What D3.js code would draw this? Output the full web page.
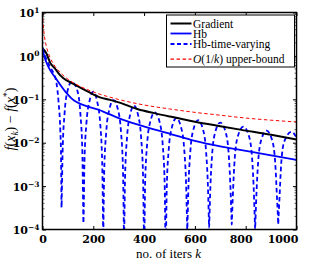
<!DOCTYPE html>
<html>
<head>
<meta charset="utf-8">
<script src="https://cdn.jsdelivr.net/npm/d3@7"></script>
<style>
  body { margin: 0; background: #fff; }
  svg { display: block; }
</style>
</head>
<body>
<div id="chart"></div>
<script>
// Gradient
const kGrad = [0, 15, 30, 48, 69, 81, 120, 179, 226, 266, 300, 376, 440, 502, 600, 700, 778, 900, 1000];
const gradVals = [1.5, 1.15, 0.70, 0.52, 0.36, 0.31, 0.23, 0.15, 0.111, 0.097, 0.085, 0.059, 0.048, 0.040, 0.0305, 0.024, 0.020, 0.0152, 0.0118];

// Hb
const kHb = [0, 5, 14, 30, 48, 69, 90, 115, 179, 226, 246, 300, 376, 502, 600, 700, 778, 900, 1000];
const hbVals = [1.55, 1.1, 0.74, 0.47, 0.33, 0.22, 0.15, 0.104, 0.068, 0.056, 0.050, 0.037, 0.026, 0.016, 0.011, 0.0082, 0.0068, 0.0051, 0.004];

// Hb-time-varying
const kTv = [0, 15, 30, 45, 55, 63, 70, 73, 74, 75, 76, 79, 87, 99, 115, 137, 149, 157, 160, 161, 162, 165, 173, 185, 200, 215,
  227, 235, 238, 239, 240, 243, 251, 263, 280, 297, 309, 317, 320, 321, 322, 325, 333, 345, 360, 376, 388, 396, 399, 400, 401,
  404, 412, 424, 442, 461, 473, 481, 484, 485, 486, 489, 497, 509, 527, 546, 558, 566, 569, 570, 571, 574, 582, 594, 613, 632,
  644, 652, 655, 656, 657, 660, 668, 680, 700, 721, 733, 741, 744, 745, 746, 749, 757, 769, 791, 813, 825, 833, 836, 837, 838,
  841, 849, 861, 882, 904, 916, 924, 927, 928, 929, 932, 940, 952, 981, 1000];
const tvVals = [1.5, 0.85, 0.55, 0.38, 0.24, 0.09, 0.02, 0.005, 0.0012, 0.00032, 0.0006, 0.0057, 0.048, 0.16, 0.255, 0.16, 0.048, 0.0057, 0.00036, 0.00014, 0.00021, 0.0034, 0.0285, 0.09, 0.15, 0.09,
  0.0285, 0.0034, 0.00021, 0.00004, 0.00013, 0.0022, 0.018, 0.058, 0.096, 0.058, 0.018, 0.0022, 0.00013, 0.00004, 0.0001, 0.0016, 0.0137, 0.044, 0.072, 0.044, 0.0137, 0.0016, 0.0001, 0.00005, 0.00007,
  0.0011, 0.0095, 0.03, 0.05, 0.03, 0.0095, 0.0011, 0.00007, 0.00004, 0.00006, 0.00083, 0.007, 0.022, 0.037, 0.022, 0.007, 0.00083, 0.00016, 0.0001, 0.00015, 0.00074, 0.0063, 0.02, 0.033, 0.02,
  0.0063, 0.00074, 0.00017, 0.00011, 0.00016, 0.00065, 0.0055, 0.0175, 0.029, 0.0175, 0.0055, 0.00065, 0.00019, 0.00013, 0.00018, 0.00053, 0.0045, 0.014, 0.0235, 0.014, 0.0045, 0.00053, 0.00015, 0.0001, 0.00014,
  0.00043, 0.0036, 0.0115, 0.019, 0.0115, 0.0036, 0.00043, 0.00019, 0.00013, 0.00018, 0.0004, 0.0034, 0.0107, 0.0178, 0.013];

// O(1/k) upper bound
const kUb = [0, 1, 2, 3, 5, 7, 10, 15, 20, 30, 50, 75, 100, 150, 200, 300, 400, 500, 600, 700, 800, 900, 1000];
const ubVals = [10, 7.5, 6, 5, 3.75, 3, 2.3, 1.67, 1.3, 0.91, 0.57, 0.385, 0.29, 0.196, 0.148, 0.099, 0.074, 0.06, 0.05, 0.043, 0.037, 0.033, 0.030];

const xTicks = [0, 200, 400, 600, 800, 1000];
const yTicks = [1e1, 1e0, 1e-1, 1e-2, 1e-3, 1e-4];
const yExps = ["1", "0", "\u22121", "\u22122", "\u22123", "\u22124"];
const legendNames = ["Gradient", "Hb", "Hb-time-varying", "upper-bound"];

const width = 312, height = 261;
const margin = { top: 12.5, right: 15.5, bottom: 31.5, left: 42.5 };
const iw = width - margin.left - margin.right;
const ih = height - margin.top - margin.bottom;

const svg = d3.select("#chart").append("svg")
  .attr("width", width)
  .attr("height", height);

const x = d3.scaleLinear().domain([0, 1000]).range([0, iw]);
const y = d3.scaleLog().domain([1e-4, 1e1]).range([ih, 0]);

const g = svg.append("g")
  .attr("transform", "translate(" + margin.left + "," + margin.top + ")");

g.append("clipPath").attr("id", "clip")
  .append("rect").attr("x", 0).attr("y", 0).attr("width", iw).attr("height", ih);

const serif = "'DejaVu Serif', serif";

// x axis (ticks inside); the last labels sit a little left of their ticks as in the original
const xShift = [0, 0, 0, 0, -5, -14];
const xAxis = g.append("g")
  .attr("transform", "translate(0," + ih + ")")
  .call(d3.axisBottom(x).tickValues(xTicks).tickFormat(d3.format("d"))
    .tickSizeInner(-3.5).tickSizeOuter(0).tickPadding(6));
xAxis.select(".domain").remove();
xAxis.selectAll("text")
  .attr("dx", (d, i) => xShift[i])
  .style("font-family", serif).style("font-weight", "bold").style("font-size", "11px").attr("fill", "#000");

g.append("g")
  .call(d3.axisTop(x).tickValues(xTicks).tickSizeInner(-3.5).tickSizeOuter(0).tickFormat(""))
  .select(".domain").remove();

// y axis (ticks inside)
const yAxis = g.append("g")
  .call(d3.axisLeft(y).tickValues(yTicks).tickSizeInner(-3.5).tickSizeOuter(0).tickPadding(10).tickFormat(""));
yAxis.select(".domain").remove();
yAxis.selectAll(".tick").each(function (d, i) {
  const t = d3.select(this).append("text")
    .attr("x", -3)
    .attr("y", 0)
    .attr("dy", "0.38em")
    .attr("text-anchor", "end")
    .attr("fill", "#000")
    .style("font-family", serif)
    .style("font-weight", "bold")
    .style("font-size", "11px");
  t.append("tspan").text("10");
  t.append("tspan").attr("dy", "-0.55em").style("font-size", "7.5px").text(yExps[i]);
});

g.append("g")
  .attr("transform", "translate(" + iw + ",0)")
  .call(d3.axisRight(y).tickValues(yTicks).tickSizeInner(-3.5).tickSizeOuter(0).tickFormat(""))
  .select(".domain").remove();

// minor log ticks
const minor = [];
for (let e = -4; e < 1; e++) {
  for (let m = 2; m < 10; m++) minor.push(m * Math.pow(10, e));
}
g.selectAll(".minorL").data(minor).enter().append("line")
  .attr("x1", 0).attr("x2", 2)
  .attr("y1", (d) => y(d)).attr("y2", (d) => y(d))
  .attr("stroke", "#000").attr("stroke-width", 0.6);
g.selectAll(".minorR").data(minor).enter().append("line")
  .attr("x1", iw - 2).attr("x2", iw)
  .attr("y1", (d) => y(d)).attr("y2", (d) => y(d))
  .attr("stroke", "#000").attr("stroke-width", 0.6);

// lines
const plot = g.append("g").attr("clip-path", "url(#clip)");

function drawLine(ks, vs, color, widthPx, dash) {
  const line = d3.line()
    .x((d) => x(d[0]))
    .y((d) => y(d[1]))
    .curve(d3.curveMonotoneX);
  const path = plot.append("path")
    .datum(ks.map((k, i) => [k, vs[i]]))
    .attr("fill", "none")
    .attr("stroke", color)
    .attr("stroke-width", widthPx)
    .attr("stroke-linejoin", "round")
    .attr("d", line);
  if (dash) path.style("stroke-dasharray", dash);
}

drawLine(kTv, tvVals, "#0000ff", 1.8, "4.5, 3");
drawLine(kGrad, gradVals, "#000", 2);
drawLine(kHb, hbVals, "#0000ff", 1.8);
drawLine(kUb, ubVals, "#ff0000", 1, "3.5, 2.5");

// frame
g.append("rect")
  .attr("x", 0).attr("y", 0).attr("width", iw).attr("height", ih)
  .attr("fill", "none").attr("stroke", "#000").attr("stroke-width", 1.5);

// legend
const legendX = 124, legendY = 2.5;
const rowsY = [8.5, 18.5, 29, 44.2];
const styles = [
  { color: "#000", w: 2, dash: null },
  { color: "#0000ff", w: 1.8, dash: null },
  { color: "#0000ff", w: 1.8, dash: "4, 2.5" },
  { color: "#ff0000", w: 1.2, dash: "3.5, 2.5" }
];
const lg = g.append("g").attr("transform", "translate(" + legendX + "," + legendY + ")");
lg.append("rect")
  .attr("x", 0).attr("y", 0).attr("width", 128).attr("height", 52)
  .attr("fill", "#fff").attr("stroke", "#000").attr("stroke-width", 1);

legendNames.forEach((name, i) => {
  const ln = lg.append("line")
    .attr("x1", 4).attr("x2", 25)
    .attr("y1", rowsY[i]).attr("y2", rowsY[i])
    .attr("stroke", styles[i].color)
    .attr("stroke-width", styles[i].w);
  if (styles[i].dash) ln.style("stroke-dasharray", styles[i].dash);
  const t = lg.append("text")
    .attr("x", 26.5).attr("y", rowsY[i]).attr("dy", "0.35em")
    .attr("fill", "#000")
    .style("font-family", "'Liberation Serif', serif")
    .style("font-size", "11.5px");
  if (i === 3) {
    t.append("tspan").style("font-style", "italic").text("O");
    t.append("tspan").text("(1/");
    t.append("tspan").style("font-style", "italic").text("k");
    t.append("tspan").text(")  " + name);
  } else {
    t.text(name);
  }
});

// axis labels
const xl = svg.append("text")
  .attr("x", margin.left + iw / 2 - 1)
  .attr("y", 258)
  .attr("text-anchor", "middle")
  .attr("fill", "#000")
  .style("font-family", "'Liberation Serif', serif")
  .style("font-size", "13px");
xl.append("tspan").text("no. of iters ");
xl.append("tspan").style("font-style", "italic").text("k");

const yl = svg.append("text")
  .attr("transform", "translate(15," + (margin.top + ih / 2 - 2) + ") rotate(-90)")
  .attr("text-anchor", "middle")
  .attr("fill", "#000")
  .style("font-family", "'Liberation Serif', serif")
  .style("font-size", "14px");
yl.append("tspan").style("font-style", "italic").text("f");
yl.append("tspan").text("(");
yl.append("tspan").style("font-style", "italic").text("x");
yl.append("tspan").style("font-style", "italic").style("font-size", "9.5px").attr("dy", "3").text("k");
yl.append("tspan").attr("dy", "-3").text(") \u2212 ");
yl.append("tspan").style("font-style", "italic").text("f");
yl.append("tspan").text("(");
yl.append("tspan").style("font-style", "italic").text("x");
yl.append("tspan").style("font-size", "9.5px").attr("dy", "-5").text("*");
yl.append("tspan").attr("dy", "5").text(")");
</script>
</body>
</html>
